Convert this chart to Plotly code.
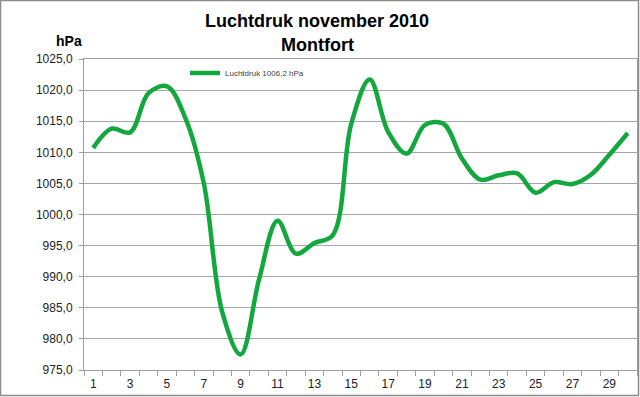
import plotly.graph_objects as go

days = list(range(1, 31))
pressure = [1010.7, 1013.8, 1013.2, 1019.5, 1020.6, 1015.5, 1005.0, 984.3, 977.5, 989.6,
            999.0, 993.7, 995.4, 996.7, 1014.6, 1021.7, 1013.3, 1009.8, 1014.4, 1014.6,
            1009.0, 1005.6, 1006.3, 1006.6, 1003.5, 1005.2, 1004.9, 1006.4, 1009.6, 1013.1]
series_name = "Luchtdruk 1006,2 hPa"

x_tick_vals = list(range(1, 30, 2))
x_tick_text = [str(v) for v in x_tick_vals]
y_tick_vals = list(range(975, 1026, 5))
y_tick_text = [f"{v},0" for v in y_tick_vals]

title_line1 = "Luchtdruk november 2010"
title_line2 = "Montfort"
y_unit = "hPa"

W, H = 640, 397
L, R, T, B = 84, 3, 59, 27
pw, ph = W - L - R, H - T - B

def px(xp):
    return (xp - L) / pw

def py(yp):
    return (H - B - yp) / ph

FONT = "Liberation Sans, Arial, sans-serif"

fig = go.Figure()
fig.add_trace(go.Scatter(
    x=days, y=pressure, mode="lines", name=series_name,
    line=dict(color="#13A83E", width=4.5, shape="spline", smoothing=1.0),
    showlegend=True,
))

fig.update_layout(
    width=W, height=H,
    margin=dict(l=L, r=R, t=T, b=B, pad=0),
    paper_bgcolor="white", plot_bgcolor="white",
    font=dict(family=FONT, color="#222222", size=12),
    showlegend=True,
    legend=dict(x=px(185), y=py(73), xanchor="left", yanchor="middle",
                bgcolor="rgba(0,0,0,0)", borderwidth=0,
                font=dict(size=8, color="#404040", family=FONT)),
    xaxis=dict(
        range=[0.5, 30.5], tickmode="array", tickvals=x_tick_vals, ticktext=x_tick_text,
        ticks="", showgrid=False, zeroline=False,
        showline=True, linecolor="#A0A0A0", linewidth=1, mirror=True,
        tickfont=dict(size=12, color="#222222"),
        ticklabelstandoff=3,
        minor=dict(tick0=0.5, dtick=1, ticks="outside", ticklen=5, tickcolor="#A0A0A0", showgrid=False),
    ),
    yaxis=dict(
        range=[975, 1025], tickmode="array", tickvals=y_tick_vals, ticktext=y_tick_text,
        ticks="outside", ticklen=4, tickcolor="#A0A0A0",
        ticklabelstandoff=4,
        showgrid=True, gridcolor="#A6A6A6", gridwidth=1, zeroline=False,
        showline=True, linecolor="#A0A0A0", linewidth=1, mirror=True,
        tickfont=dict(size=12, color="#222222"),
    ),
    annotations=[
        dict(text=f"<b>{title_line1}</b>", x=px(317), y=py(21), xref="paper", yref="paper",
             xanchor="center", yanchor="middle", showarrow=False,
             font=dict(size=18, color="black", family=FONT)),
        dict(text=f"<b>{title_line2}</b>", x=px(317), y=py(45), xref="paper", yref="paper",
             xanchor="center", yanchor="middle", showarrow=False,
             font=dict(size=18, color="black", family=FONT)),
        dict(text=f"<b>{y_unit}</b>", x=px(69), y=py(41), xref="paper", yref="paper",
             xanchor="center", yanchor="middle", showarrow=False,
             font=dict(size=14, color="black", family=FONT)),
    ],
    shapes=[
        dict(type="rect", xref="paper", yref="paper",
             x0=px(0.5), x1=px(638.5), y0=py(395.5), y1=py(0.5),
             line=dict(color="#8C8C8C", width=1.5), fillcolor="rgba(0,0,0,0)", layer="above"),
    ],
)

fig.write_html("out.html", config={"displayModeBar": False},
               post_script="document.body.style.margin='0';document.body.style.padding='0';")
